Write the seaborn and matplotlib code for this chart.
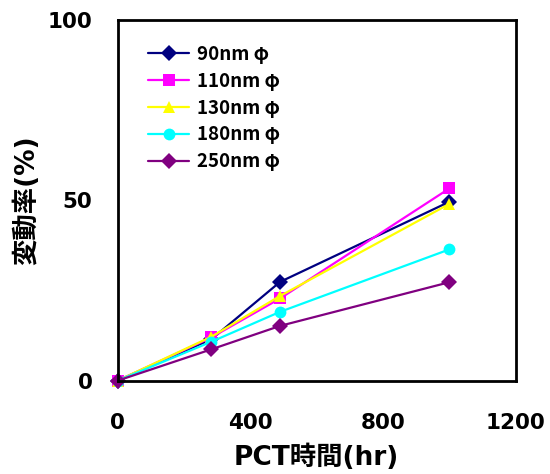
import matplotlib
matplotlib.use("Agg")
import matplotlib.pyplot as plt
from matplotlib.ticker import MultipleLocator
import seaborn as sns
import pandas as pd

# PCT test time (hr)
hours = [0, 283, 490, 1000]

# Variation rate (%) for each particle diameter
series_labels = ["90nm φ", "110nm φ", "130nm φ", "180nm φ", "250nm φ"]
rate_90 = [0.0, 11.5, 27.4, 49.6]
rate_110 = [0.0, 12.0, 22.8, 53.3]
rate_130 = [0.0, 12.2, 23.5, 49.0]
rate_180 = [0.0, 10.8, 19.1, 36.4]
rate_250 = [0.0, 8.7, 15.2, 27.3]
all_rates = [rate_90, rate_110, rate_130, rate_180, rate_250]

colors = ["#000080", "#FF00FF", "#FFFF00", "#00FFFF", "#800080"]
markers = ["D", "s", "^", "o", "D"]

rows = []
for lab, vals in zip(series_labels, all_rates):
    for h, v in zip(hours, vals):
        rows.append({"hours": h, "rate": v, "size": lab})
df = pd.DataFrame(rows)

sns.set_style("white")
latin_first = ["DejaVu Sans", "Noto Sans CJK JP"]
plt.rcParams["font.family"] = latin_first
plt.rcParams["font.weight"] = "bold"
plt.rcParams["text.color"] = "black"
plt.rcParams["axes.labelcolor"] = "black"
plt.rcParams["xtick.color"] = "black"
plt.rcParams["ytick.color"] = "black"

fig = plt.figure(figsize=(5.5, 4.74), dpi=100)
ax = fig.add_axes([117.5 / 550, 1 - 380.7 / 474, 398.2 / 550, 360.7 / 474])

sns.lineplot(
    data=df, x="hours", y="rate", hue="size", style="size",
    hue_order=series_labels, style_order=series_labels,
    palette=colors, markers=markers, dashes=False,
    linewidth=1.6, markersize=8.5, markeredgewidth=0,
    ax=ax, legend=True, clip_on=False,
)

ax.set_xlim(0, 1200)
ax.set_ylim(0, 100)
ax.xaxis.set_major_locator(MultipleLocator(400))
ax.xaxis.set_minor_locator(MultipleLocator(100))
ax.yaxis.set_major_locator(MultipleLocator(50))
ax.yaxis.set_minor_locator(MultipleLocator(10))
ax.tick_params(which="major", direction="in", length=6, width=1.2, color="black")
ax.tick_params(which="minor", direction="in", length=4.5, width=1.0, color="black")
ax.tick_params(axis="x", which="major", pad=23, labelsize=15.5, labelcolor="black")
ax.tick_params(axis="y", which="major", pad=18, labelsize=15.5, labelcolor="black")
for lbl in ax.get_xticklabels() + ax.get_yticklabels():
    lbl.set_fontweight("bold")

for sp in ax.spines.values():
    sp.set_visible(True)
    sp.set_color("black")
    sp.set_linewidth(2.0)

ax.set_xlabel("PCT時間(hr)", fontsize=19, fontweight="bold", family=latin_first, color="black")
ax.xaxis.set_label_coords(0.5, -0.214)
ax.xaxis.label.set_va("center")
ax.set_ylabel("変動率(%)", fontsize=19, fontweight="bold", family=latin_first, color="black")
ax.yaxis.set_label_coords(-0.227, 0.5)
ax.yaxis.label.set_va("center")

leg = ax.legend(
    loc="upper left", bbox_to_anchor=(0.058, 0.952), frameon=False,
    prop={"family": ["Noto Sans CJK JP", "DejaVu Sans"], "size": 13.5, "weight": "bold"},
    handlelength=2.2, handletextpad=0.4, labelspacing=0.42, borderaxespad=0,
)
for t in leg.get_texts():
    t.set_color("black")

fig.savefig("out.png", dpi=100)
